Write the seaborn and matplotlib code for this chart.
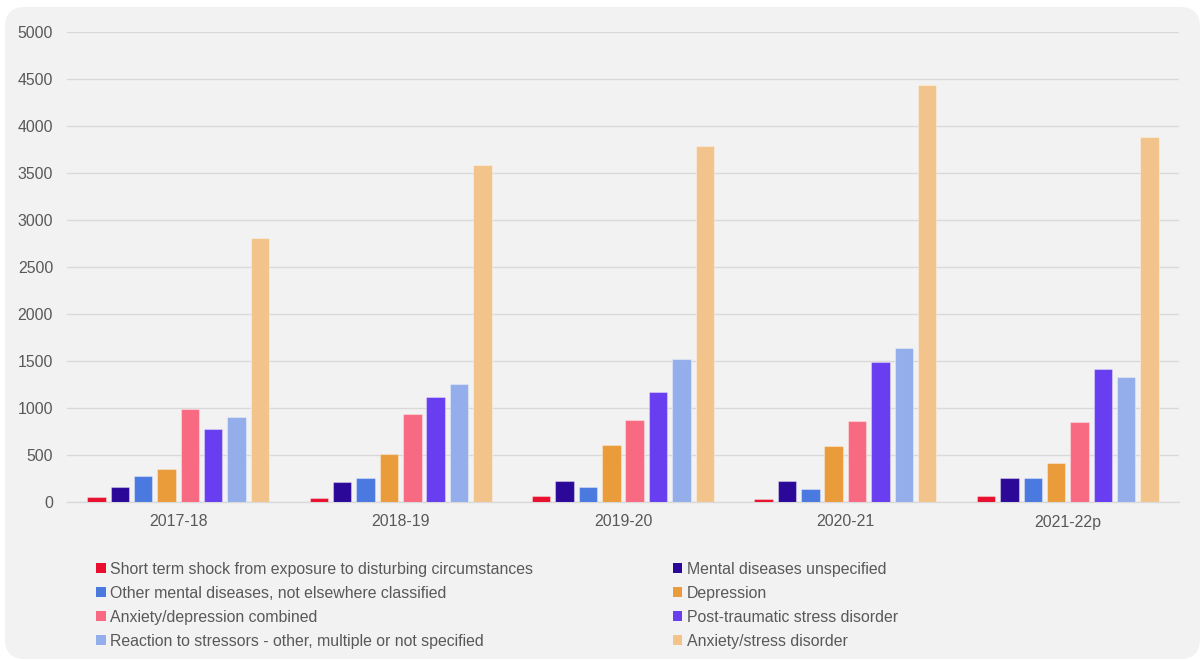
import pandas as pd
import numpy as np
import seaborn as sns
import matplotlib.pyplot as plt
from matplotlib.patches import FancyBboxPatch, Patch

# years on the x axis
years = ["2017-18", "2018-19", "2019-20", "2020-21", "2021-22p"]

# the eight causes, in the order the bars appear in each group
causes = [
    "Short term shock from exposure to disturbing circumstances",
    "Mental diseases unspecified",
    "Other mental diseases, not elsewhere classified",
    "Depression",
    "Anxiety/depression combined",
    "Post-traumatic stress disorder",
    "Reaction to stressors - other, multiple or not specified",
    "Anxiety/stress disorder",
]

# values, one list per cause
short_term_shock = [56, 40, 67, 28, 64]
mental_unspecified = [156, 216, 223, 223, 255]
other_mental = [276, 255, 156, 135, 255]
depression = [350, 510, 603, 592, 418]
anx_dep_combined = [993, 936, 872, 862, 851]
ptsd = [776, 1113, 1170, 1493, 1415]
reaction_stressors = [900, 1252, 1525, 1638, 1333]
anx_stress = [2810, 3585, 3787, 4436, 3883]

colours = ["#e8102e", "#2c0898", "#4a7ae0", "#ea9c3b",
           "#f86a82", "#683ef0", "#93aeea", "#f2c48b"]

series = [short_term_shock, mental_unspecified, other_mental, depression,
          anx_dep_combined, ptsd, reaction_stressors, anx_stress]

# long-form table for seaborn
rows = []
for cause, vals in zip(causes, series):
    for yr, v in zip(years, vals):
        rows.append({"Year": yr, "Cause": cause, "Count": v})
df = pd.DataFrame(rows)

TEXT = "#595959"
FS = 11.4
plt.rcParams["font.family"] = ["Liberation Sans", "DejaVu Sans"]

fig = plt.figure(figsize=(12.03, 6.6), dpi=100, facecolor="white")

# rounded grey panel behind everything
panel = FancyBboxPatch((0.05, 0.01), 11.95, 6.52,
                       boxstyle="round,pad=0,rounding_size=0.2",
                       transform=fig.dpi_scale_trans,
                       facecolor="#f2f2f2", edgecolor="none", zorder=0)
fig.add_artist(panel)

ax = fig.add_axes([67 / 1203, 1 - 502 / 660, (1179 - 67) / 1203, (502 - 31.7) / 660])
ax.set_facecolor("none")

sns.barplot(data=df, x="Year", y="Count", hue="Cause", hue_order=causes,
            palette=colours, saturation=1, width=0.84, gap=0.21, ax=ax,
            legend=False, edgecolor=(1, 1, 1, 0.35), linewidth=0.8, zorder=3)

ax.set_ylim(0, 5000)
ax.set_xlim(-0.5, 4.5)
ax.set_yticks(np.arange(0, 5001, 500))
ax.yaxis.grid(True, color="#d9d9d9", linewidth=1.0, zorder=0)
ax.set_axisbelow(True)
for s in ["top", "right", "left"]:
    ax.spines[s].set_visible(False)
ax.spines["bottom"].set_color("#d9d9d9")
ax.spines["bottom"].set_linewidth(1.0)
ax.tick_params(axis="both", length=0, labelsize=FS, labelcolor=TEXT)
ax.tick_params(axis="y", pad=10)
ax.tick_params(axis="x", pad=9)
ax.set_xlabel("")
ax.set_ylabel("")

# legend: two columns, filled row by row like the original
handles = [Patch(facecolor=c, edgecolor="none") for c in colours]
order = [0, 2, 4, 6, 1, 3, 5, 7]
leg = fig.legend([handles[i] for i in order], [causes[i] for i in order],
                 ncol=2, loc="upper left", bbox_to_anchor=(96 / 1203, 1 - 562 / 660),
                 frameon=False, fontsize=FS, labelcolor=TEXT,
                 handlelength=0.6, handleheight=0.6, handletextpad=0.3,
                 labelspacing=0.56, columnspacing=8.8,
                 borderpad=0, borderaxespad=0)

fig.savefig("out.png", dpi=100, facecolor="white")
